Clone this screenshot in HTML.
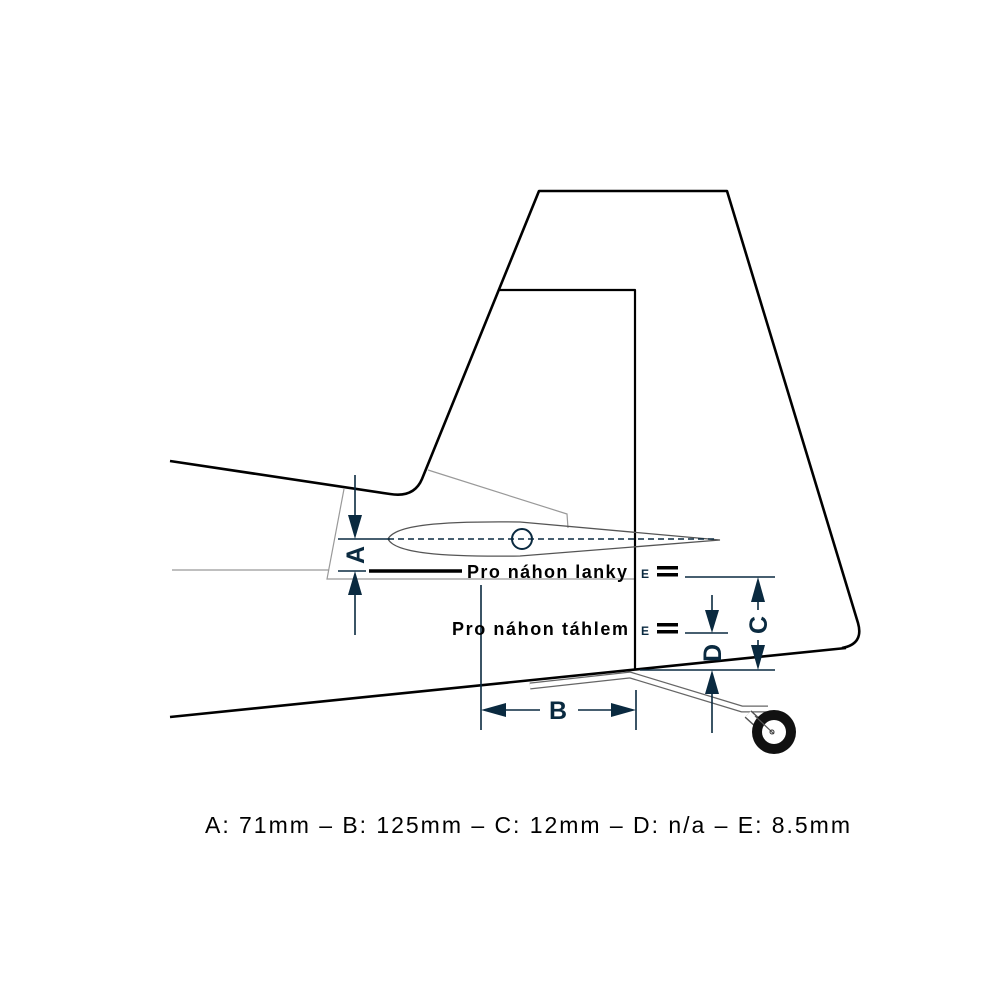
<!DOCTYPE html>
<html><head><meta charset="utf-8"><style>
html,body{margin:0;padding:0;background:#fff;}
svg{display:block;}
text{font-family:"Liberation Sans",Arial,sans-serif;}
</style></head><body>
<svg width="1000" height="1000" viewBox="0 0 1000 1000" xmlns="http://www.w3.org/2000/svg">
<rect width="1000" height="1000" fill="#fff"/>
<g stroke="#999" stroke-width="1.2" fill="none">
<polyline points="344,489 327,579 636,579"/>
<polyline points="428,470 567,514 568,528"/>
<line x1="172" y1="570" x2="329" y2="570"/>
</g>
<g stroke="#000" stroke-width="2.6" fill="none" stroke-linejoin="round">
<path d="M170,461 L390,494 Q414,498 422,479 L539,191 L727,191 L858,623 Q864,644 842,648"/>
<line x1="170" y1="717" x2="846" y2="648"/>
<polyline points="498,290 635,290 635,670" stroke-width="2.2"/>
</g>
<path d="M388,539 C395,525 440,521 520,522 L720,540 L520,556 C440,557 395,553 388,539 Z" fill="none" stroke="#555" stroke-width="1.3"/>
<line x1="388" y1="539" x2="718" y2="539" stroke="#0a2a40" stroke-width="1.6" stroke-dasharray="6,4"/>
<circle cx="522" cy="539" r="10" fill="none" stroke="#0a2a40" stroke-width="2"/>
<path d="M530,686 L630,675 L742,709 L768,709" fill="none" stroke="#666" stroke-width="7" stroke-linejoin="round"/>
<path d="M530,686 L630,675 L742,709 L768,709" fill="none" stroke="#fff" stroke-width="4.5" stroke-linejoin="round"/>
<path d="M748,714 L772,736" stroke="#555" stroke-width="10" fill="none"/>
<path d="M748,714 L772,736" stroke="#fff" stroke-width="7" fill="none"/>
<circle cx="774" cy="732" r="22" fill="#111"/>
<circle cx="774" cy="732" r="12" fill="#fff"/>
<path d="M755,716 L774,734" stroke="#555" stroke-width="1.2"/>
<circle cx="772" cy="732" r="2" fill="none" stroke="#333"/>
<g stroke="#0a2a40" stroke-width="1.6" fill="#0a2a40">
<line x1="355" y1="475" x2="355" y2="525"/>
<line x1="355" y1="585" x2="355" y2="635"/>
<line x1="338" y1="539" x2="390" y2="539"/>
<line x1="338" y1="571" x2="366" y2="571"/>
<polygon points="348,515 362,515 355,539" stroke="none"/>
<polygon points="348,595 362,595 355,571" stroke="none"/>
<line x1="481" y1="585" x2="481" y2="730"/>
<line x1="636" y1="690" x2="636" y2="730"/>
<line x1="500" y1="710" x2="540" y2="710"/>
<line x1="578" y1="710" x2="615" y2="710"/>
<polygon points="481,710 506,703 506,717" stroke="none"/>
<polygon points="636,710 611,703 611,717" stroke="none"/>
<line x1="685" y1="577" x2="775" y2="577"/>
<line x1="640" y1="670" x2="775" y2="670"/>
<line x1="758" y1="600" x2="758" y2="610"/>
<line x1="758" y1="640" x2="758" y2="648"/>
<polygon points="758,577 751,602 765,602" stroke="none"/>
<polygon points="758,670 751,645 765,645" stroke="none"/>
<line x1="685" y1="633" x2="728" y2="633"/>
<line x1="712" y1="595" x2="712" y2="612"/>
<line x1="712" y1="690" x2="712" y2="733"/>
<polygon points="712,633 705,610 719,610" stroke="none"/>
<polygon points="712,670 705,694 719,694" stroke="none"/>
</g>
<g fill="#0a2a40" font-weight="bold" font-size="25">
<text transform="translate(364,555) rotate(-90)" text-anchor="middle">A</text>
<text x="558" y="719" text-anchor="middle">B</text>
<text transform="translate(767,625) rotate(-90)" text-anchor="middle">C</text>
<text transform="translate(721,653) rotate(-90)" text-anchor="middle">D</text>
</g>
<line x1="369" y1="571" x2="462" y2="571" stroke="#000" stroke-width="3.5"/>
<text x="467" y="578" font-size="18" font-weight="bold" textLength="160" lengthAdjust="spacing">Pro náhon lanky</text>
<text x="452" y="635" font-size="18" font-weight="bold" textLength="176" lengthAdjust="spacing">Pro náhon táhlem</text>
<g font-size="12" font-weight="bold" fill="#0a2a40">
<text x="641" y="578">E</text><text x="641" y="635">E</text>
</g>
<g fill="#000">
<rect x="657" y="566" width="21" height="3.5"/><rect x="657" y="573" width="21" height="3.5"/>
<rect x="657" y="623" width="21" height="3.5"/><rect x="657" y="630" width="21" height="3.5"/>
</g>
<text x="205" y="833" font-size="23" textLength="645" lengthAdjust="spacing">A: 71mm – B: 125mm – C: 12mm – D: n/a – E: 8.5mm</text>
</svg>
</body></html>
